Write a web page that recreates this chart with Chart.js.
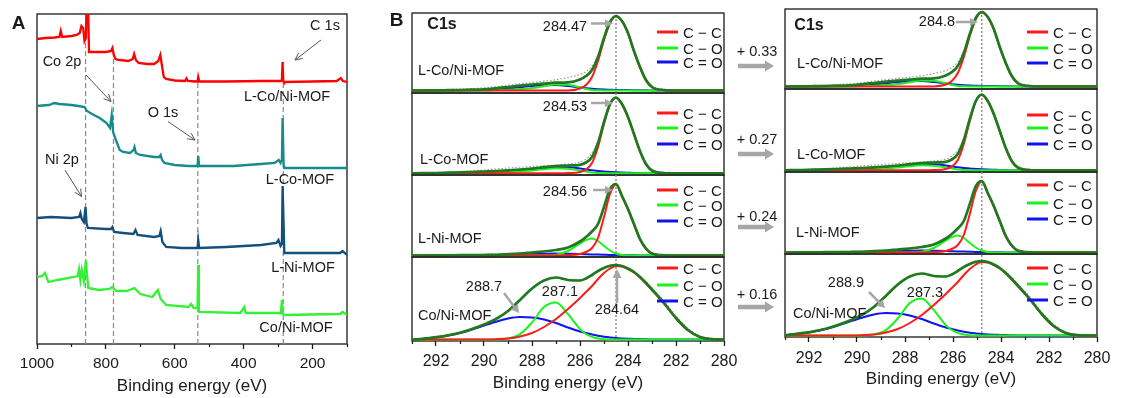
<!DOCTYPE html>
<html><head><meta charset="utf-8">
<script src="https://cdn.jsdelivr.net/npm/chart.js@4.4.1/dist/chart.umd.min.js"></script>
<style>
html,body{margin:0;padding:0;background:#fff;}
body{width:1121px;height:398px;overflow:hidden;position:relative;font-family:'Liberation Sans',Arial,sans-serif;color:#1a1a1a;}
canvas{position:absolute;}
.t{position:absolute;white-space:nowrap;line-height:1;transform:translate(-50%,-50%);}
.tl{position:absolute;white-space:nowrap;line-height:1;transform:translate(0,-50%);}
.lg{position:absolute;height:3px;width:21px;transform:translate(0,-50%);}
svg{position:absolute;left:0;top:0;}
</style></head><body>
<script>
// ---------------- DATA ----------------
// Panel A: XPS survey spectra [binding energy (eV), intensity (a.u., offset stacked)]
const surveyLCoNi = [[1000,305],[975,306],[950,306.5],[935,307],[931,313],[927,307],[900,308],[885,309],[876,311],[871,318],[866,316],[862,303],[858,306],[856,345],[852,345],[849,292],[830,292],[800,292],[785,293],[781,296],[777,289],[772,285],[760,284],[735,283],[722,285],[718,290],[713,284],[705,281],[680,280],[660,280],[648,283],[642,289],[638,280],[632,267],[625,265],[600,263.5],[570,263],[566,265.5],[562,263],[540,262.5],[534,262.5],[532,267],[529,262.5],[450,262.5],[350,263],[292,263],[289,264],[287,282],[286,282],[285,263],[283,262],[200,262.5],[130,263],[118,266],[112,263],[100,262]];
const surveyLCo = [[1000,238],[985,238.5],[965,239],[950,241],[935,240],[900,239],[880,238],[862,237],[855,233],[840,230],[818,226],[798,221],[788,216],[783,229],[779,212],[772,205],[760,194],[750,192],[730,191],[720,194],[717,197],[713,191],[700,189],[660,187],[645,187],[641,189],[637,184],[630,181],[600,179],[560,178],[534,178],[532,188],[529,178],[430,178],[350,180],[310,181],[298,184],[293,181],[289,184],[287,226],[286,226],[284,180],[282,176],[200,176],[130,176],[100,176]];
const surveyLNi = [[1000,126],[960,127],[900,126],[878,127],[874,131],[870,125],[864,122],[859,137],[856,120],[852,116],[800,115],[785,115],[781,117],[776,112],[750,111],[720,110],[714,114],[708,109],[660,107],[645,108],[641,113],[636,102],[625,97],[580,96],[534,96],[532,104],[529,96],[450,97],[350,99],[305,101],[299,104],[293,98],[289,100],[287,158],[286,158],[284,120],[282,91],[200,91],[120,91],[113,93],[100,89]];
const surveyCoNi = [[1000,67],[985,68],[977,71],[967,62],[940,64],[893,67],[882,68],[878,75],[874,64],[870,74],[864,63],[858,84],[855,70],[851,56],[820,54],[790,55],[781,57],[770,53],[740,53],[717,56],[700,50],[665,47],[649,54],[641,45],[625,39],[560,37],[553,40],[545,36],[534,36],[532,79],[530,32],[410,31],[398,37],[394,31],[292,31],[289,44],[287,31],[283,29],[120,30],[113,32],[100,29]];
const markerLines = [859, 778, 533, 285];      // Ni 2p, Co 2p, O 1s, C 1s
const markerTops  = [301, 294, 266, 282];
const tickValsA   = [200, 400, 600, 800, 1000];
const tickLabelsA = ['200', '400', '600', '800', '1000'];
const minorA      = [100, 300, 500, 700, 900];

// Panel B: C1s high-resolution spectra
const energiesL = [293.5,293,292.5,292,291.5,291,290.5,290,289.5,289,288.5,288,287.5,287,286.5,286,285.75,285.5,285.25,285,284.75,284.5,284.25,284,283.75,283.5,283.25,283,282.5,282,281.5,281,280.5,280,279.5];
const energiesR = [293.8,293.3,292.8,292.3,291.8,291.3,290.8,290.3,289.8,289.3,288.8,288.3,287.8,287.3,286.8,286.3,286.05,285.8,285.55,285.3,285.05,284.8,284.55,284.3,284.05,283.8,283.55,283.3,282.8,282.3,281.8,281.3,280.8,280.3,279.8];
const tickValsB   = [280, 282, 284, 286, 288, 290, 292];
const tickLabelsB = ['280', '282', '284', '286', '288', '290', '292'];
const minorB      = [281, 283, 285, 287, 289, 291, 293];
const peakLineL = 284.5, peakLineR = 284.8;
const shiftLabels = ['+ 0.33', '+ 0.27', '+ 0.24', '+ 0.16'];

// L-Co/Ni-MOF
const fitLCoNi = [2.5,2.5,2.5,2.6,2.8,3,3.3,3.7,4.7,6,7.3,8.5,9.5,10.3,10.6,13.5,17,23,36,55,71,77,72,60,42,26,13,6,3,2.5,2.5,2.5,2.5,2.5,2.5];
const ccLCoNi  = [2.5,2.5,2.5,2.5,2.5,2.5,2.5,2.5,2.5,2.5,2.5,2.5,2.5,2.5,2.6,4.5,8,16,32,53,70,76.5,71.5,59.5,41.5,25.5,12.5,5.5,2.8,2.5,2.5,2.5,2.5,2.5,2.5];
const coLCoNi  = [2.5,2.5,2.5,2.5,2.5,2.5,2.55,2.6,2.9,3.3,4,5,6.8,8.5,8.2,5.5,4,3,2.7,2.5,2.5,2.5,2.5,2.5,2.5,2.5,2.5,2.5,2.5,2.5,2.5,2.5,2.5,2.5,2.5];
const c2oLCoNi = [2.5,2.5,2.5,2.5,2.5,2.6,2.8,3,3.6,4.5,5.8,7,7.8,8,7,5.5,4.8,4.2,3.8,3.5,3.3,3.1,3,2.9,2.8,2.7,2.65,2.6,2.5,2.5,2.5,2.5,2.5,2.5,2.5];
const rawLCoNi = [2.7,2.7,2.9,3.1,3.4,3.8,4.4,5.2,6.3,7.8,9.2,10.5,11.8,13.3,15.5,18.5,21.5,27,38,56,71.5,77,72.5,60.5,42.5,27,14,7,3.8,3,2.8,2.7,2.6,2.6,2.6];
// L-Co-MOF
const fitLCo = [1.7,1.7,1.8,2,2.3,2.6,3,3.5,4,4.7,5.5,6.5,7.8,9,9.5,10.2,12.5,18,32,53,71,77.5,71,58,41,24,11,4.5,2,1.7,1.7,1.7,1.7,1.7,1.7];
const ccLCo  = [1.7,1.7,1.7,1.7,1.7,1.7,1.7,1.7,1.7,1.7,1.7,1.7,1.7,1.7,1.9,3,5.5,12,28,51,70.5,77,70.5,57.5,40.5,23.5,10.5,4.2,1.9,1.7,1.7,1.7,1.7,1.7,1.7];
const coLCo  = [1.7,1.7,1.7,1.7,1.7,1.7,1.75,1.8,2.2,2.8,3.5,4.5,5.8,6.7,6.3,4.5,3.4,2.5,2,1.8,1.7,1.7,1.7,1.7,1.7,1.7,1.7,1.7,1.7,1.7,1.7,1.7,1.7,1.7,1.7];
const c2oLCo = [1.7,1.7,1.7,1.7,1.7,1.8,1.9,2,2.5,3.2,4.2,5.3,6.5,7.5,7.8,6.5,5.6,4.8,4.1,3.5,3.1,2.7,2.4,2.2,2,1.9,1.8,1.75,1.7,1.7,1.7,1.7,1.7,1.7,1.7];
const rawLCo = [1.8,1.8,2.1,2.5,3,3.5,4.2,5,6,7,7.8,8.5,9.3,10,11,13,16,22,34,54,71.5,77.5,71.5,58.5,41.5,24.5,11.5,5,2.5,2,1.9,1.8,1.8,1.8,1.8];
// L-Ni-MOF
const fitLNi = [1.5,1.5,1.5,1.6,1.7,1.8,1.9,2,2.2,2.8,3.5,4.5,5.5,7,9.5,15.5,20,25.5,33,50,68,73,61,48,33,18,8.5,3.5,1.7,1.5,1.5,1.5,1.5,1.5,1.5];
const ccLNi  = [1.5,1.5,1.5,1.5,1.5,1.5,1.5,1.5,1.5,1.5,1.5,1.5,1.5,1.5,1.8,3,5,9,19,40,63,72.5,60.5,47.5,32.5,17.5,8,3.3,1.6,1.5,1.5,1.5,1.5,1.5,1.5];
const coLNi  = [1.5,1.5,1.5,1.5,1.5,1.5,1.5,1.5,1.5,1.5,1.5,1.5,1.6,2.2,6,13.5,17,18.5,16,11,6.5,3.5,2,1.6,1.5,1.5,1.5,1.5,1.5,1.5,1.5,1.5,1.5,1.5,1.5];
const c2oLNi = [1.5,1.5,1.5,1.5,1.5,1.5,1.6,1.7,1.9,2.2,2.6,3,3.3,3.5,3.3,3,2.8,2.6,2.4,2.2,2,1.9,1.8,1.7,1.65,1.6,1.55,1.5,1.5,1.5,1.5,1.5,1.5,1.5,1.5];
const rawLNi = [1.8,1.8,1.9,2,2.1,2.3,2.5,2.7,3,3.5,4.2,5,6,7.5,10,15.5,20,25.5,33,50,68,73,61,48,33,18.5,9,4,2.2,1.8,1.7,1.7,1.6,1.6,1.6];
// Co/Ni-MOF
const fitCoNi = [1.5,1.5,2.3,3.8,5.7,8.3,12,16.5,22,30,41,52.5,60.5,63.5,61,60.5,62.5,66,70,73,75.3,76,75,72.5,69,64,58,51.5,38,23,11,4,1.8,1.5,1.5];
const ccCoNi  = [1.5,1.5,1.5,1.5,1.5,1.5,1.5,1.5,1.8,2.5,4.5,8,14,22,32,43,49,55,62,68,72.5,75,74.5,72,68.5,63.5,57.5,51,37.5,22.5,10.5,4,1.8,1.5,1.5];
const coCoNi  = [1.5,1.5,1.5,1.5,1.5,1.5,1.5,1.5,1.6,2.5,6.9,18.5,33.9,38.4,26.8,11.9,7,4.1,2.5,1.8,1.5,1.5,1.5,1.5,1.5,1.5,1.5,1.5,1.5,1.5,1.5,1.5,1.5,1.5,1.5];
const c2oCoNi = [1.5,1.6,2.3,3.5,5.5,8,11.5,15.5,19.3,22.5,24,23.5,21.5,18,13.5,9.5,8,6.5,5.3,4.3,3.6,3,2.6,2.3,2.1,1.9,1.7,1.6,1.5,1.5,1.5,1.5,1.5,1.5,1.5];
const rawCoNi = [1.6,1.8,2.6,4,6,8.5,12,16.5,22,30,41,52.5,60.5,63.5,61.5,61,63,66,70,73,75.5,76,75,72.5,69.5,65,59.5,53,40,25,12.5,5,2.5,2,2];

// ---------------- RENDERING ----------------
const FONT = "'Liberation Sans', Arial, sans-serif";
const INK = '#1a1a1a';

const framePlugin = {
  id: 'frame',
  beforeDatasetsDraw(chart) {
    const {ctx, chartArea: a} = chart;
    ctx.save();
    ctx.strokeStyle = INK; ctx.lineWidth = 1.3;
    ctx.strokeRect(a.left, a.top, a.right - a.left, a.bottom - a.top);
    ctx.restore();
  }
};
const minorTickPlugin = {
  id: 'minorTicks',
  afterDraw(chart, args, opts) {
    const sx = chart.scales.x;
    if (!opts.values || !sx.options.display) return;
    const ctx = chart.ctx, b = chart.chartArea.bottom;
    ctx.save(); ctx.strokeStyle = INK; ctx.lineWidth = 1.2;
    opts.values.forEach(v => {
      const p = Math.round(sx.getPixelForValue(v)) + 0.5;
      ctx.beginPath(); ctx.moveTo(p, b); ctx.lineTo(p, b + 3); ctx.stroke();
    });
    ctx.restore();
  }
};

function makePanel(o) {
  const c = document.createElement('canvas');
  const W = o.r - o.l + 80, H = o.b - o.t + 20 + (o.xAxis ? 60 : 20);
  c.width = W; c.height = H;
  c.style.left = (o.l - 40) + 'px'; c.style.top = (o.t - 20) + 'px';
  c.style.width = W + 'px'; c.style.height = H + 'px';
  document.body.appendChild(c);
  return new Chart(c, {
    type: 'line',
    data: {datasets: o.datasets},
    options: {
      responsive: false, animation: false, events: [], devicePixelRatio: 1,
      layout: {padding: {left: 40, right: 40, top: 20, bottom: o.xAxis ? 0 : 20}},
      plugins: {legend: {display: false}, tooltip: {enabled: false}, minorTicks: {values: o.minor}},
      scales: {
        x: {
          type: 'linear', reverse: true, min: o.xMin, max: o.xMax, display: o.xAxis,
          afterBuildTicks: s => { s.ticks = o.ticks.map(v => ({value: v})); },
          afterFit: s => { s.height = o.xAxis ? 60 : 0; },
          border: {display: false},
          grid: {drawOnChartArea: false, drawTicks: true, tickLength: 5, tickColor: INK, tickWidth: 1.3},
          ticks: {
            callback: v => o.tickLabels[o.ticks.indexOf(v)],
            font: {family: FONT, size: o.tickSize}, color: INK, padding: o.tickPad,
            maxRotation: 0, autoSkip: false
          },
          title: {display: true, text: 'Binding energy (eV)', font: {family: FONT, size: 17},
                  color: INK, padding: {top: 0, bottom: o.titlePad}}
        },
        y: {type: 'linear', min: 0, max: o.yMax, display: false}
      }
    },
    plugins: [framePlugin, minorTickPlugin]
  });
}

// Panel A
const surveyColors = ['#ff0000', '#178a8a', '#13507d', '#36f036'];
const surveys = [surveyLCoNi, surveyLCo, surveyLNi, surveyCoNi];
const dsA = surveys.map((s, i) => ({
  data: s.map(p => ({x: p[0], y: p[1]})), borderColor: surveyColors[i], borderWidth: 2.3,
  pointRadius: 0, tension: 0, fill: false, order: 1
}));
markerLines.forEach((e, i) => dsA.push({
  data: [{x: e, y: 0}, {x: e, y: markerTops[i]}], borderColor: '#8a8a8a', borderWidth: 1.2,
  borderDash: [5, 3], pointRadius: 0, tension: 0, fill: false, order: 2
}));
makePanel({l: 37, t: 14, r: 347, b: 344, xAxis: true, xMin: 100, xMax: 1000, yMax: 330,
  ticks: tickValsA, tickLabels: tickLabelsA, minor: minorA, tickSize: 15.5, tickPad: 5, titlePad: 7,
  datasets: dsA});

// Panel B
const samples = [
  {fit: fitLCoNi, cc: ccLCoNi, co: coLCoNi, c2o: c2oLCoNi, raw: rawLCoNi},
  {fit: fitLCo,   cc: ccLCo,   co: coLCo,   c2o: c2oLCo,   raw: rawLCo},
  {fit: fitLNi,   cc: ccLNi,   co: coLNi,   c2o: c2oLNi,   raw: rawLNi},
  {fit: fitCoNi,  cc: ccCoNi,  co: coCoNi,  c2o: c2oCoNi,  raw: rawCoNi}
];
function bDatasets(E, s, vline) {
  const pts = arr => E.map((e, i) => ({x: e, y: arr[i]}));
  return [
    {data: pts(s.fit), borderColor: '#1f7a1f', borderWidth: 2.7, order: 0},
    {data: pts(s.cc),  borderColor: '#ff1a1a', borderWidth: 2, order: 1},
    {data: pts(s.co),  borderColor: '#19f519', borderWidth: 2, order: 2},
    {data: pts(s.c2o), borderColor: '#1212ee', borderWidth: 2, order: 3},
    {data: pts(s.raw), borderColor: '#9a9a9a', borderWidth: 1.2, borderDash: [1.5, 2], order: 4},
    {data: [{x: vline, y: 0}, {x: vline, y: 200}], borderColor: '#8a8a8a', borderWidth: 1.4,
     borderDash: [2, 2], order: 5, cubicInterpolationMode: 'default', tension: 0}
  ].map(d => Object.assign({pointRadius: 0, fill: false, cubicInterpolationMode: 'monotone'}, d));
}
const rowsL = [[13, 93], [93, 175], [175, 257], [257, 341]];
const rowsR = [[9, 89], [89, 172], [172, 254], [254, 337]];
samples.forEach((s, i) => {
  makePanel({l: 412, r: 724, t: rowsL[i][0], b: rowsL[i][1], xAxis: i === 3, xMin: 280, xMax: 293,
    yMax: rowsL[i][1] - rowsL[i][0], ticks: tickValsB, tickLabels: tickLabelsB, minor: minorB,
    tickSize: 16, tickPad: 6, titlePad: 7.5, datasets: bDatasets(energiesL, s, peakLineL)});
  makePanel({l: 785, r: 1097, t: rowsR[i][0], b: rowsR[i][1], xAxis: i === 3, xMin: 280, xMax: 293,
    yMax: rowsR[i][1] - rowsR[i][0], ticks: tickValsB, tickLabels: tickLabelsB, minor: minorB,
    tickSize: 16, tickPad: 7, titlePad: 7.5, datasets: bDatasets(energiesR, s, peakLineR)});
});

// ---------------- ANNOTATIONS (text) ----------------
function txt(s, x, y, size, opts = {}) {
  const d = document.createElement('div');
  d.className = opts.left ? 'tl' : 't';
  d.textContent = s;
  d.style.left = x + 'px'; d.style.top = y + 'px';
  d.style.fontSize = size + 'px';
  if (opts.bold) d.style.fontWeight = 'bold';
  d.style.zIndex = 5;
  document.body.appendChild(d);
}
txt('A', 18.5, 21.5, 19, {bold: true});
txt('B', 396.5, 18.5, 19, {bold: true});
txt('C 1s', 325, 25, 14.5);
txt('Co 2p', 62, 61, 14.5);
txt('O 1s', 163, 111.5, 14.5);
txt('Ni 2p', 62, 159, 14.5);
txt('L-Co/Ni-MOF', 287, 96, 14.5);
txt('L-Co-MOF', 300, 179, 14.5);
txt('L-Ni-MOF', 303, 267, 14.5);
txt('Co/Ni-MOF', 296, 327, 14.5);

txt('C1s', 442, 24, 16, {bold: true});
txt('C1s', 809, 25, 16, {bold: true});
txt('284.47', 565, 26, 14.5);
txt('284.53', 565, 106, 14.5);
txt('284.56', 565, 191, 14.5);
txt('284.64', 617, 309, 14.5);
txt('288.7', 484, 286, 14.5);
txt('287.1', 560, 291, 14.5);
txt('284.8', 937, 21, 14.5);
txt('288.9', 846, 282, 14.5);
txt('287.3', 925, 292, 14.5);
const shiftY = [51, 139, 216, 294];
shiftLabels.forEach((s, i) => txt(s, 757, shiftY[i], 14.5));

const nameL = [['L-Co/Ni-MOF', 418, 70], ['L-Co-MOF', 420, 159], ['L-Ni-MOF', 418, 238], ['Co/Ni-MOF', 418, 315]];
const nameR = [['L-Co/Ni-MOF', 797, 63], ['L-Co-MOF', 797, 154], ['L-Ni-MOF', 796, 232], ['Co/Ni-MOF', 793, 313]];
nameL.concat(nameR).forEach(n => txt(n[0], n[1], n[2], 14.5, {left: true}));

// legends
const legendText = ['C \u2212 C', 'C \u2212 O', 'C = O'];
const legendColors = ['#ff1a1a', '#19f519', '#1212ee'];
const legYL = [[32, 48, 62], [113, 128, 144], [190, 205, 221], [268, 285, 301]];
const legYR = [[32, 48, 63], [115, 128, 144], [185, 203, 219], [268, 284, 300]];
function legend(xLine, xText, ys) {
  ys.forEach((y, k) => {
    const l = document.createElement('div');
    l.className = 'lg'; l.style.left = xLine + 'px'; l.style.top = y + 'px';
    l.style.background = legendColors[k]; l.style.zIndex = 5;
    document.body.appendChild(l);
    txt(legendText[k], xText, y, 15, {left: true});
  });
}
legYL.forEach(ys => legend(657, 683, ys));
legYR.forEach(ys => legend(1027, 1053, ys));

// ---------------- ANNOTATIONS (arrows) ----------------
const NS = 'http://www.w3.org/2000/svg';
const svg = document.createElementNS(NS, 'svg');
svg.setAttribute('width', 1121); svg.setAttribute('height', 398);
svg.style.zIndex = 6;
document.body.appendChild(svg);
function el(tag, attrs) {
  const e = document.createElementNS(NS, tag);
  for (const k in attrs) e.setAttribute(k, attrs[k]);
  svg.appendChild(e); return e;
}
function arrowOpen(x1, y1, x2, y2) {
  const a = Math.atan2(y2 - y1, x2 - x1), L = 8, sp = 0.45;
  el('line', {x1, y1, x2, y2, stroke: '#555', 'stroke-width': 1});
  el('polyline', {points: `${x2 - L * Math.cos(a - sp)},${y2 - L * Math.sin(a - sp)} ${x2},${y2} ${x2 - L * Math.cos(a + sp)},${y2 - L * Math.sin(a + sp)}`,
    fill: 'none', stroke: '#555', 'stroke-width': 1});
}
function arrowFilled(x1, y1, x2, y2, shaft, hl, hw) {
  const a = Math.atan2(y2 - y1, x2 - x1), c = Math.cos(a), s = Math.sin(a);
  const bx = x2 - hl * c, by = y2 - hl * s;
  el('line', {x1, y1, x2: bx + c, y2: by + s, stroke: '#a6a6a6', 'stroke-width': shaft});
  el('polygon', {points: `${x2},${y2} ${bx - hw * s},${by + hw * c} ${bx + hw * s},${by - hw * c}`, fill: '#a6a6a6'});
}
arrowOpen(321, 40, 295, 60);
arrowOpen(86, 75, 111, 101.5);
arrowOpen(168, 121.5, 195, 140);
arrowOpen(65, 170, 81.5, 196.5);

arrowFilled(591, 23.5, 613, 23.5, 2.5, 8, 4);
arrowFilled(591, 103, 613, 103, 2.5, 8, 4);
arrowFilled(593, 190, 613, 190, 2.5, 8, 4);
arrowFilled(617, 303, 617, 269, 2.5, 9, 4.5);
arrowFilled(504, 293, 519, 313, 2.5, 8, 4.5);
arrowFilled(956, 22, 978, 22, 2.5, 8, 4);
arrowFilled(869, 292, 885, 308, 2.5, 8, 4.5);
const shiftArrowY = [66, 154, 227, 307];
shiftArrowY.forEach(y => arrowFilled(738, y, 774, y, 4.5, 9, 5.5));
</script>
</body></html>
